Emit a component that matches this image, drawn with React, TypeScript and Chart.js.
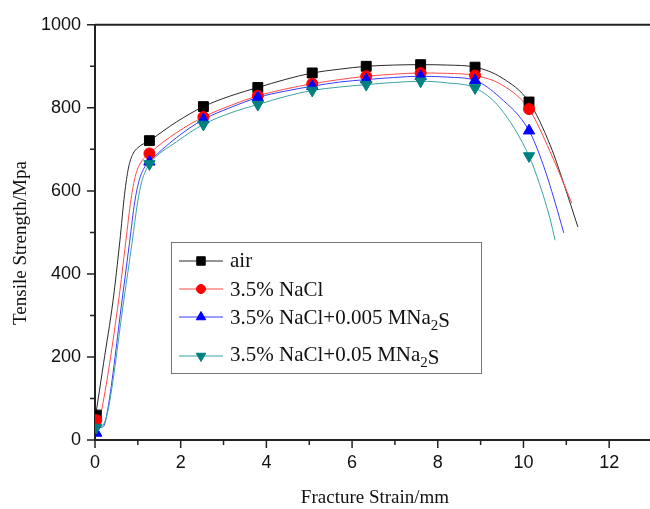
import React, { useEffect, useRef } from 'react';
import { Chart, registerables } from 'chart.js';

Chart.register(...registerables);

// ---- data ----
const seriesNames = ['air', '3.5% NaCl', '3.5% NaCl+0.005 MNa|2|S', '3.5% NaCl+0.05 MNa|2|S'];

const markX = [0.03, 1.27, 2.53, 3.8, 5.07, 6.33, 7.6, 8.87, 10.13];
const airMarks = [60, 721, 803, 849, 884, 900, 904, 898, 814];
const naclMarks = [48, 690, 778, 829, 858, 876, 884, 878, 797];
const s005Marks = [17, 670, 772, 825, 852, 868, 876, 866, 745];
const s05Marks = [30, 665, 760, 808, 842, 856, 864, 848, 684];

const airCurveX = [0.02, 0.2, 0.42, 0.58, 0.69, 0.78, 0.88, 1.0, 1.27, 1.9, 2.53, 3.17, 3.8, 4.43, 5.07, 5.7, 6.33, 6.97, 7.6, 8.23, 8.87, 9.5, 10.13, 10.62, 11.0, 11.27];
const airCurveY = [62, 185, 335, 479, 592, 655, 688, 704, 721, 766, 803, 829, 849, 868, 884, 893, 900, 903, 904, 903, 898, 872, 814, 711, 599, 513];

const naclCurveX = [0.03, 0.08, 0.13, 0.55, 0.72, 0.84, 0.94, 1.05, 1.27, 1.9, 2.53, 3.17, 3.8, 4.43, 5.07, 5.7, 6.33, 6.97, 7.6, 8.23, 8.87, 9.5, 10.13, 10.62, 11.13];
const naclCurveY = [48, 44, 60, 335, 479, 580, 635, 665, 690, 740, 778, 806, 829, 845, 858, 868, 876, 881, 884, 883, 878, 855, 797, 695, 570];

const s005CurveX = [0.05, 0.1, 0.2, 0.3, 0.63, 0.81, 0.93, 1.03, 1.13, 1.27, 1.9, 2.53, 3.17, 3.8, 4.43, 5.07, 5.7, 6.33, 6.97, 7.6, 8.23, 8.87, 9.45, 10.13, 10.46, 10.73, 10.94];
const s005CurveY = [32, 30, 33, 75, 335, 479, 575, 625, 652, 670, 728, 772, 801, 825, 840, 852, 862, 868, 873, 876, 874, 866, 825, 745, 663, 575, 499];

const s05CurveX = [0.03, 0.15, 0.3, 0.67, 0.87, 0.99, 1.09, 1.18, 1.27, 1.9, 2.53, 3.17, 3.8, 4.43, 5.07, 5.7, 6.33, 6.97, 7.6, 8.23, 8.87, 9.45, 10.13, 10.38, 10.61, 10.74];
const s05CurveY = [30, 32, 70, 335, 479, 570, 622, 648, 665, 718, 760, 788, 808, 827, 842, 850, 856, 861, 864, 860, 848, 800, 684, 615, 537, 481];

const xMajorTicks = [0, 2, 4, 6, 8, 10, 12];
const xMinorTicks = [1, 3, 5, 7, 9, 11, 13];
const yMajorTicks = [0, 200, 400, 600, 800, 1000];
const yMinorTicks = [100, 300, 500, 700, 900];

const xTitle = 'Fracture Strain/mm';
const yTitle = 'Tensile Strength/Mpa';

// ---- styles ----
const lineColors = ['#2a2a2a', '#ff4a4a', '#3a3aff', '#3aa3a3'];
const markColors = ['#000000', '#ff0000', '#0000ff', '#008080'];
const markStyles = ['rect', 'circle', 'triangle', 'triangle'];
const markRot = [0, 0, 0, 180];
const markRadius = [7, 5.5, 6.5, 6.5];

const toPts = (xs: number[], ys: number[]) => xs.map((x, i) => ({ x, y: ys[i] }));

const serif = '"Liberation Serif", "Times New Roman", serif';
const sans = '"Liberation Sans", Arial, sans-serif';

function drawMarker(ctx: CanvasRenderingContext2D, style: string, r: number, rot: number, x: number, y: number) {
  ctx.beginPath();
  if (style === 'rect') {
    const s = Math.SQRT1_2 * r;
    ctx.rect(x - s, y - s, 2 * s, 2 * s);
  } else if (style === 'circle') {
    ctx.arc(x, y, r, 0, Math.PI * 2);
  } else {
    const base = rot === 180 ? Math.PI / 2 : -Math.PI / 2;
    for (let k = 0; k < 3; k++) {
      const a = base + (k * 2 * Math.PI) / 3;
      const px = x + Math.cos(a) * r;
      const py = y + Math.sin(a) * r;
      if (k === 0) ctx.moveTo(px, py);
      else ctx.lineTo(px, py);
    }
    ctx.closePath();
  }
  ctx.fill();
  ctx.stroke();
}

const decorPlugin = {
  id: 'decor',
  afterDraw(chart: any) {
    const ctx = chart.ctx;
    const xs = chart.scales.x;
    const ys = chart.scales.y;
    const area = chart.chartArea;
    ctx.save();
    // top frame
    ctx.strokeStyle = '#222';
    ctx.lineWidth = 2;
    ctx.beginPath();
    ctx.moveTo(area.left, area.top);
    ctx.lineTo(area.right, area.top);
    ctx.stroke();
    // ticks
    ctx.lineWidth = 1.5;
    ctx.beginPath();
    xMajorTicks.forEach((v) => {
      const p = xs.getPixelForValue(v);
      ctx.moveTo(p, area.bottom);
      ctx.lineTo(p, area.bottom + 8);
    });
    xMinorTicks.forEach((v) => {
      const p = xs.getPixelForValue(v);
      ctx.moveTo(p, area.bottom);
      ctx.lineTo(p, area.bottom + 5);
    });
    yMajorTicks.forEach((v) => {
      const p = ys.getPixelForValue(v);
      ctx.moveTo(area.left, p);
      ctx.lineTo(area.left - 8, p);
    });
    yMinorTicks.forEach((v) => {
      const p = ys.getPixelForValue(v);
      ctx.moveTo(area.left, p);
      ctx.lineTo(area.left - 5, p);
    });
    ctx.stroke();

    // axis titles
    ctx.fillStyle = '#111';
    ctx.font = `19px ${serif}`;
    ctx.textAlign = 'center';
    ctx.textBaseline = 'middle';
    ctx.fillText(xTitle, 375, 498);
    ctx.save();
    ctx.translate(21, 243);
    ctx.rotate(-Math.PI / 2);
    ctx.fillText(yTitle, 0, 0);
    ctx.restore();

    // legend
    const bx = 171, by = 242, bw = 310, bh = 131;
    ctx.fillStyle = '#fff';
    ctx.fillRect(bx, by, bw, bh);
    ctx.strokeStyle = '#777';
    ctx.lineWidth = 1;
    ctx.strokeRect(bx + 0.5, by + 0.5, bw, bh);
    const lineYs = [261, 289, 317, 356];
    const baseYs = [267, 296, 324, 361];
    seriesNames.forEach((name, i) => {
      const ly = lineYs[i];
      ctx.strokeStyle = lineColors[i];
      ctx.lineWidth = 1;
      ctx.beginPath();
      ctx.moveTo(179, ly);
      ctx.lineTo(223, ly);
      ctx.stroke();
      ctx.fillStyle = markColors[i];
      ctx.strokeStyle = markColors[i];
      drawMarker(ctx, markStyles[i], markRadius[i] - 1, markRot[i], 201, ly);
      // text
      ctx.fillStyle = '#111';
      ctx.textAlign = 'left';
      ctx.textBaseline = 'alphabetic';
      const parts = name.split('|');
      let tx = 230;
      const bl = baseYs[i];
      ctx.font = `21px ${serif}`;
      ctx.fillText(parts[0], tx, bl);
      tx += ctx.measureText(parts[0]).width;
      if (parts.length > 1) {
        ctx.font = `15px ${serif}`;
        ctx.fillText(parts[1], tx, bl + 6);
        tx += ctx.measureText(parts[1]).width;
        ctx.font = `21px ${serif}`;
        ctx.fillText(parts[2], tx, bl + 3);
      }
    });
    ctx.restore();
  },
};

export default function App() {
  const ref = useRef<HTMLCanvasElement | null>(null);
  useEffect(() => {
    if (!ref.current) return;
    const curves = [
      toPts(airCurveX, airCurveY),
      toPts(naclCurveX, naclCurveY),
      toPts(s005CurveX, s005CurveY),
      toPts(s05CurveX, s05CurveY),
    ];
    const marks = [airMarks, naclMarks, s005Marks, s05Marks].map((m) => toPts(markX, m));
    const datasets: any[] = [];
    curves.forEach((c, i) => {
      datasets.push({
        label: seriesNames[i] + ' curve',
        data: c,
        borderColor: lineColors[i],
        borderWidth: 1,
        pointRadius: 0,
        fill: false,
        cubicInterpolationMode: 'monotone',
        order: 20 - i,
      });
    });
    marks.forEach((m, i) => {
      datasets.push({
        label: seriesNames[i],
        data: m,
        showLine: false,
        pointStyle: markStyles[i],
        rotation: markRot[i],
        pointRadius: markRadius[i],
        pointBackgroundColor: markColors[i],
        pointBorderColor: markColors[i],
        pointBorderWidth: 1,
        order: 4 - i,
      });
    });
    const chart = new Chart(ref.current, {
      type: 'line',
      data: { datasets },
      options: {
        animation: false,
        responsive: false,
        events: [],
        layout: { padding: { top: 22, right: 4, left: 0, bottom: 0 } },
        plugins: { legend: { display: false }, tooltip: { enabled: false } },
        scales: {
          x: {
            type: 'linear',
            min: 0,
            max: 13,
            afterFit(s: any) { s.height = 69; },
            grid: { display: false, drawTicks: false },
            border: { display: true, color: '#222', width: 2 },
            ticks: {
              stepSize: 2,
              includeBounds: false,
              color: '#111',
              padding: 12,
              maxRotation: 0,
              font: { family: sans, size: 18 },
              callback: (v: any) => (v <= 12 ? String(v) : ''),
            },
          },
          y: {
            type: 'linear',
            min: 0,
            max: 1000,
            afterFit(s: any) { s.width = 95; },
            grid: { display: false, drawTicks: false },
            border: { display: true, color: '#222', width: 2 },
            ticks: {
              stepSize: 200,
              color: '#111',
              padding: 14,
              font: { family: sans, size: 18 },
              callback: (v: any) => String(v),
            },
          },
        },
      },
      plugins: [decorPlugin],
    } as any);
    return () => chart.destroy();
  }, []);
  return (
    <div style={{ position: 'fixed', left: 0, top: 0, width: 650, height: 509, overflow: 'hidden', background: '#fff' }}>
      <canvas ref={ref} width={660} height={509} style={{ width: 660, height: 509, display: 'block' }} />
    </div>
  );
}
